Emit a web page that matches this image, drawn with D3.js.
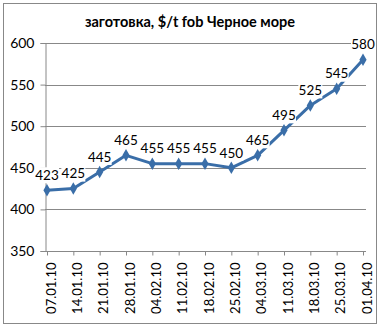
<html>
<head>
<meta charset="utf-8">
<title>заготовка</title>
<script src="https://cdn.jsdelivr.net/npm/d3@7/dist/d3.min.js"></script>
<style>
  html, body { margin: 0; padding: 0; background: #fff; }
  svg text { font-family: Lato, "Open Sans", sans-serif; fill: #000; }
</style>
</head>
<body>
<svg width="379" height="330" id="mainsvg"></svg>
<script>
  // data
  const dates = ["07.01.10", "14.01.10", "21.01.10", "28.01.10", "04.02.10", "11.02.10", "18.02.10",
                 "25.02.10", "04.03.10", "11.03.10", "18.03.10", "25.03.10", "01.04.10"];
  const prices = [423, 425, 445, 465, 455, 455, 455, 450, 465, 495, 525, 545, 580];
  const yTicks = [350, 400, 450, 500, 550, 600];
  const title = "заготовка, $/t fob Черное море";

  const svg = d3.select('#mainsvg');
  const lineColor = '#3a6ea8';
  const gridColor = '#888888';

  // outer frame
  svg.append('rect').attr('x', 3.5).attr('y', 3.5).attr('width', 373).attr('height', 320)
    .attr('fill', 'none').attr('stroke', gridColor);

  svg.append('text').attr('x', 190).attr('y', 27).attr('text-anchor', 'middle')
    .attr('font-size', 14.5).attr('font-weight', 700).text(title);

  const plotLeft = 45, plotRight = 366, plotTop = 43, plotBottom = 251;
  const xScale = d3.scalePoint().domain(dates).range([47, 363]);
  const yScale = d3.scaleLinear().domain([350, 600]).range([plotBottom, plotTop]);

  // grid lines
  svg.append('g').selectAll('line').data(yTicks.filter(d => d > 350)).join('line')
    .attr('x1', plotLeft).attr('x2', plotRight)
    .attr('y1', d => Math.round(yScale(d)) + 0.5).attr('y2', d => Math.round(yScale(d)) + 0.5)
    .attr('stroke', gridColor);

  // y axis
  const yAxis = svg.append('g').attr('transform', `translate(${plotLeft + 0.5},0)`)
    .call(d3.axisLeft(yScale).tickValues(yTicks).tickSize(5).tickPadding(6));
  yAxis.select('.domain').attr('stroke', gridColor);
  yAxis.selectAll('.tick line').attr('stroke', gridColor);
  yAxis.selectAll('.tick text').attr('font-size', 14).attr('font-family', 'Lato, sans-serif');

  // x axis
  const xAxis = svg.append('g').attr('transform', `translate(0,${plotBottom + 0.5})`)
    .call(d3.axisBottom(xScale).tickSize(4).tickSizeOuter(0));
  xAxis.select('.domain').attr('d', `M${plotLeft},0H${plotRight}`).attr('stroke', gridColor);
  xAxis.selectAll('.tick line').attr('stroke', gridColor);
  xAxis.selectAll('.tick text')
    .attr('font-size', 13).attr('font-family', 'Lato, sans-serif')
    .attr('text-anchor', 'end').attr('dy', null).attr('y', 0)
    .attr('transform', 'translate(8,11) rotate(-90)');

  // series line
  const line = d3.line().x((d, i) => xScale(dates[i])).y(d => yScale(d));
  svg.append('path').datum(prices).attr('d', line)
    .attr('fill', 'none').attr('stroke', lineColor).attr('stroke-width', 3)
    .attr('stroke-linejoin', 'round');

  svg.append('g').selectAll('path').data(prices).join('path')
    .attr('d', d3.symbol(d3.symbolDiamond, 45))
    .attr('transform', (d, i) => `translate(${xScale(dates[i])},${yScale(d)})`)
    .attr('fill', lineColor);

  // data labels with white background
  const labels = svg.append('g').selectAll('g').data(prices).join('g')
    .attr('transform', (d, i) => `translate(${xScale(dates[i])},${yScale(d) - 15})`);
  labels.append('rect').attr('x', -12).attr('y', -8).attr('width', 24).attr('height', 16).attr('fill', '#fff');
  labels.append('text').attr('text-anchor', 'middle').attr('dy', '0.35em')
    .attr('font-size', 13.5).text(d => d);
</script>
</body>
</html>
